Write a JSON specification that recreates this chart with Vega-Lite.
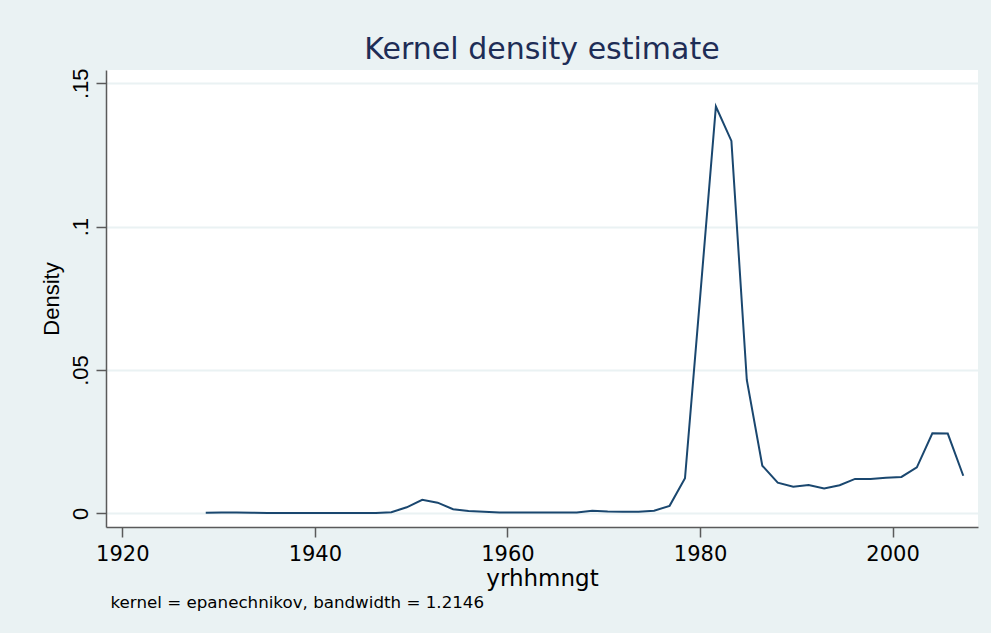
{
  "$schema": "https://vega.github.io/schema/vega-lite/v6.json",
  "autosize": {"type": "none"},
  "width": 872,
  "height": 457,
  "padding": {"left": 106, "top": 70, "right": 13, "bottom": 106},
  "background": "#EAF2F3",
  "title": {
    "text": "Kernel density estimate",
    "anchor": "middle",
    "font": "DejaVu Sans",
    "fontSize": 30,
    "fontWeight": "normal",
    "color": "#1E2D56",
    "offset": 3
  },
  "config": {
    "view": {"fill": "white", "stroke": null},
    "axis": {
      "labelFont": "DejaVu Sans",
      "titleFont": "DejaVu Sans",
      "labelFontSize": 21,
      "titleFontSize": 22,
      "titleFontWeight": "normal",
      "labelColor": "#000000",
      "titleColor": "#000000",
      "domainColor": "#5A5A5A",
      "domainWidth": 1.5,
      "tickColor": "#5A5A5A",
      "tickWidth": 1.5
    }
  },
  "data": {
    "values": [
      {"yrhhmngt": 1928.67, "density": 0.0002},
      {"yrhhmngt": 1930.28, "density": 0.0003},
      {"yrhhmngt": 1931.88, "density": 0.0003},
      {"yrhhmngt": 1933.49, "density": 0.0002},
      {"yrhhmngt": 1935.09, "density": 0.0001},
      {"yrhhmngt": 1936.70, "density": 0.0001},
      {"yrhhmngt": 1938.30, "density": 0.0001},
      {"yrhhmngt": 1939.91, "density": 0.0001},
      {"yrhhmngt": 1941.51, "density": 0.0001},
      {"yrhhmngt": 1943.12, "density": 0.0001},
      {"yrhhmngt": 1944.73, "density": 0.0001},
      {"yrhhmngt": 1946.33, "density": 0.0001},
      {"yrhhmngt": 1947.94, "density": 0.0004},
      {"yrhhmngt": 1949.54, "density": 0.0021},
      {"yrhhmngt": 1951.15, "density": 0.0047},
      {"yrhhmngt": 1952.75, "density": 0.0037},
      {"yrhhmngt": 1954.36, "density": 0.0014},
      {"yrhhmngt": 1955.96, "density": 0.0008},
      {"yrhhmngt": 1957.57, "density": 0.0005},
      {"yrhhmngt": 1959.17, "density": 0.0003},
      {"yrhhmngt": 1960.78, "density": 0.0003},
      {"yrhhmngt": 1962.39, "density": 0.0003},
      {"yrhhmngt": 1963.99, "density": 0.0003},
      {"yrhhmngt": 1965.60, "density": 0.0003},
      {"yrhhmngt": 1967.20, "density": 0.0003},
      {"yrhhmngt": 1968.81, "density": 0.0009},
      {"yrhhmngt": 1970.41, "density": 0.0006},
      {"yrhhmngt": 1972.02, "density": 0.0005},
      {"yrhhmngt": 1973.62, "density": 0.0005},
      {"yrhhmngt": 1975.23, "density": 0.0009},
      {"yrhhmngt": 1976.84, "density": 0.0026},
      {"yrhhmngt": 1978.44, "density": 0.0122},
      {"yrhhmngt": 1980.05, "density": 0.0770},
      {"yrhhmngt": 1981.65, "density": 0.1419},
      {"yrhhmngt": 1983.26, "density": 0.1299},
      {"yrhhmngt": 1984.86, "density": 0.0465},
      {"yrhhmngt": 1986.47, "density": 0.0166},
      {"yrhhmngt": 1988.07, "density": 0.0107},
      {"yrhhmngt": 1989.68, "density": 0.0093},
      {"yrhhmngt": 1991.28, "density": 0.0099},
      {"yrhhmngt": 1992.89, "density": 0.0087},
      {"yrhhmngt": 1994.50, "density": 0.0098},
      {"yrhhmngt": 1996.10, "density": 0.0120},
      {"yrhhmngt": 1997.71, "density": 0.0120},
      {"yrhhmngt": 1999.31, "density": 0.0124},
      {"yrhhmngt": 2000.92, "density": 0.0127},
      {"yrhhmngt": 2002.52, "density": 0.0160},
      {"yrhhmngt": 2004.13, "density": 0.0279},
      {"yrhhmngt": 2005.73, "density": 0.0278},
      {"yrhhmngt": 2007.34, "density": 0.0131}
    ]
  },
  "layer": [
    {
      "mark": {"type": "line", "color": "#1A476F", "strokeWidth": 2, "clip": true},
      "encoding": {
        "x": {
          "field": "yrhhmngt",
          "type": "quantitative",
          "scale": {"domain": [1918.31, 2008.87], "nice": false, "zero": false},
          "axis": {
            "title": "yrhhmngt",
            "titleFontSize": 23,
            "values": [1920, 1940, 1960, 1980, 2000],
            "format": "d",
            "grid": false,
            "tickSize": 10,
            "labelPadding": 6,
            "titlePadding": 3,
            "labelFlush": false
          }
        },
        "y": {
          "field": "density",
          "type": "quantitative",
          "scale": {"domain": [-0.00478, 0.15464], "nice": false, "zero": false},
          "axis": {
            "title": "Density",
            "titleFont": "Liberation Sans",
            "labelFont": "Liberation Sans",
            "labelFontSize": 22,
            "values": [0, 0.05, 0.1, 0.15],
            "labelExpr": "datum.value == 0 ? '0' : replace(format(datum.value, '.2~f'), '0.', '.')",
            "labelAngle": 270,
            "labelAlign": "center",
            "labelBaseline": "alphabetic",
            "tickSize": 10,
            "labelPadding": 9,
            "titlePadding": 6,
            "grid": true,
            "gridColor": "#EAF2F3",
            "gridWidth": 2,
            "labelFlush": false
          }
        }
      }
    },
    {
      "mark": {"type": "line", "strokeOpacity": 0},
      "encoding": {
        "x": {
          "field": "yrhhmngt",
          "type": "quantitative",
          "axis": {
            "orient": "bottom",
            "title": "kernel = epanechnikov, bandwidth = 1.2146",
            "titleFontSize": 16.7,
            "titleAnchor": "start",
            "titleAlign": "left",
            "titleX": 4,
            "labels": false,
            "ticks": false,
            "domain": false,
            "grid": false,
            "titlePadding": 67
          }
        }
      }
    }
  ],
  "resolve": {"axis": {"x": "independent"}}
}
